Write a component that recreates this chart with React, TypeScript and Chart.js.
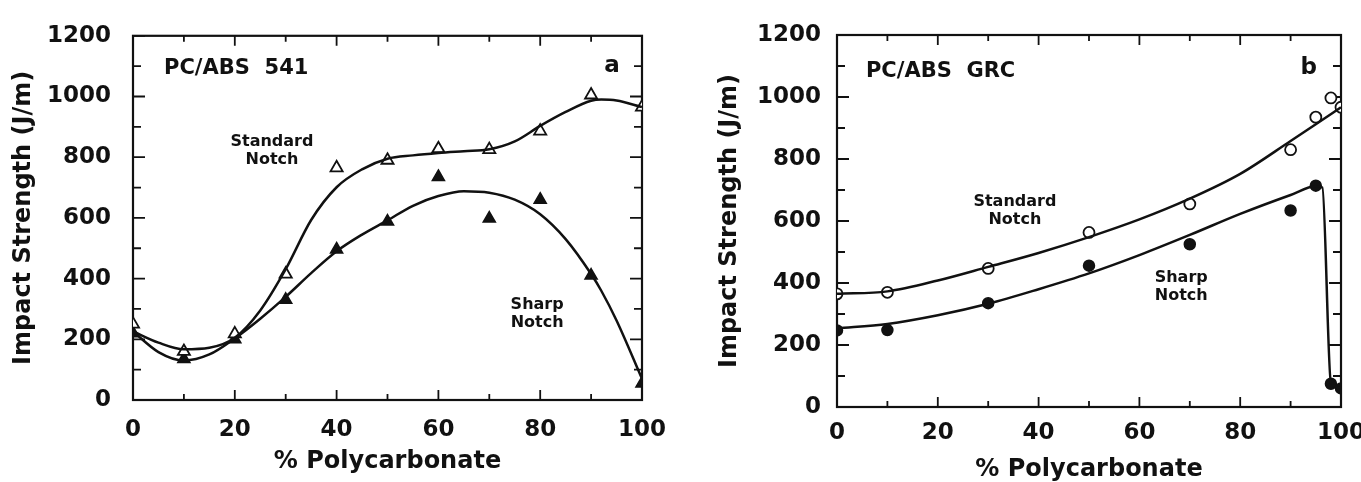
import React, { useEffect, useRef } from "react";
import { Chart, registerables } from "chart.js";
Chart.register(...registerables);

const FONT = "'DejaVu Sans', 'Liberation Sans', sans-serif";
const INK = "#111";

// ---------- Panel a : PC/ABS 541 ----------
const aPct = [0, 10, 20, 30, 40, 50, 60, 70, 80, 90, 100];
const aStandardNotch = [250, 160, 218, 415, 765, 790, 828, 825, 886, 1005, 965];
const aSharpNotch = [220, 135, 200, 330, 496, 588, 735, 598, 660, 410, 54];
const aFitPct = [0, 5, 10, 15, 20, 25, 30, 35, 40, 45, 50, 55, 60, 65, 70, 75, 80, 85, 90, 92, 95, 100];
const aStandardFit = [226, 189, 167, 172, 205, 295, 431, 593, 701, 760, 795, 806, 814, 820, 826, 852, 903, 949, 986, 990, 987, 965];
const aSharpFit = [226, 158, 130, 150, 203, 268, 340, 418, 490, 545, 592, 640, 672, 688, 683, 660, 612, 530, 415, 360, 262, 70];

// ---------- Panel b : PC/ABS GRC ----------
const bPct = [0, 10, 30, 50, 70, 90, 95, 98, 100];
const bStandardNotch = [365, 370, 447, 563, 655, 830, 935, 997, 967];
const bSharpNotch = [247, 248, 335, 456, 525, 634, 714, 75, 60];
const bStandardFitPct = [0, 10, 20, 30, 40, 50, 60, 70, 80, 90, 95, 100];
const bStandardFit = [365, 373, 408, 452, 497, 548, 605, 672, 752, 858, 912, 967];
const bSharpFitPct = [0, 10, 20, 30, 40, 50, 60, 70, 80, 90, 95, 96.3, 98, 100];
const bSharpFit = [254, 268, 296, 333, 380, 431, 490, 555, 623, 684, 712, 708, 78, 62];

// ---------- Axes ----------
const xLabelTicks = [0, 20, 40, 60, 80, 100];
const xMinorTicks = [10, 30, 50, 70, 90];
const yLabelTicks = [0, 200, 400, 600, 800, 1000, 1200];
const yMinorTicks = [100, 300, 500, 700, 900, 1100];
const xTitle = "% Polycarbonate";
const yTitle = "Impact Strength (J/m)";

const pts = (xs: number[], ys: number[]) => xs.map((x, i) => ({ x, y: ys[i] }));

const framePlugin = {
  id: "frameTicks",
  beforeDatasetsDraw(chart: any) {
    const { ctx, chartArea, scales } = chart;
    const { left, right, top, bottom } = chartArea;
    const x = scales.x, y = scales.y;
    ctx.save();
    ctx.strokeStyle = INK;
    ctx.lineWidth = 2.2;
    ctx.strokeRect(left, top, right - left, bottom - top);
    ctx.lineWidth = 1.8;
    ctx.beginPath();
    const yt = (v: number, len: number) => {
      const p = y.getPixelForValue(v);
      ctx.moveTo(left, p); ctx.lineTo(left + len, p);
      ctx.moveTo(right, p); ctx.lineTo(right - len, p);
    };
    const xt = (v: number, len: number) => {
      const p = x.getPixelForValue(v);
      ctx.moveTo(p, bottom); ctx.lineTo(p, bottom - len);
      ctx.moveTo(p, top); ctx.lineTo(p, top + len);
    };
    yLabelTicks.forEach((v) => yt(v, 12));
    yMinorTicks.forEach((v) => yt(v, 8));
    xLabelTicks.forEach((v) => xt(v, 10));
    xMinorTicks.forEach((v) => xt(v, 6));
    ctx.stroke();
    ctx.restore();
  },
};

type Note = { text: string; x: number; y: number; align: CanvasTextAlign; size: number };

const makeNotes = (items: Note[]) => ({
  id: "notes",
  afterDraw(chart: any) {
    const { ctx, scales } = chart;
    ctx.save();
    ctx.fillStyle = INK;
    ctx.textBaseline = "middle";
    for (const n of items) {
      ctx.font = `bold ${n.size}px ${FONT}`;
      ctx.textAlign = n.align;
      ctx.fillText(n.text, scales.x.getPixelForValue(n.x), scales.y.getPixelForValue(n.y));
    }
    ctx.restore();
  },
});

type PanelCfg = {
  width: number;
  plotLeft: number;
  plotRight: number;
  plotTop: number;
  plotBottom: number;
  yTickPad: number;
  xTickPad: number;
  yTitlePad: number;
  xTitlePad: number;
  marker: string;
  markerRadius: number;
  stdPts: { x: number; y: number }[];
  sharpPts: { x: number; y: number }[];
  stdFit: { x: number; y: number }[];
  sharpFit: { x: number; y: number }[];
  notes: Note[];
};

const H = 482;

function buildChart(canvas: HTMLCanvasElement, c: PanelCfg) {
  const tickFont = { family: FONT, size: 23, weight: "bold" as const };
  const titleFont = { family: FONT, size: 24, weight: "bold" as const, lineHeight: 1 };
  return new Chart(canvas, {
    type: "line",
    data: {
      datasets: [
        {
          data: c.stdFit,
          borderColor: INK,
          borderWidth: 2.5,
          pointRadius: 0,
          cubicInterpolationMode: "monotone",
          fill: false,
        },
        {
          data: c.sharpFit,
          borderColor: INK,
          borderWidth: 2.5,
          pointRadius: 0,
          cubicInterpolationMode: "monotone",
          fill: false,
        },
        {
          data: c.stdPts,
          showLine: false,
          pointStyle: c.marker as any,
          pointRadius: c.markerRadius,
          pointBackgroundColor: "#fff",
          pointBorderColor: INK,
          pointBorderWidth: 1.8,
        },
        {
          data: c.sharpPts,
          showLine: false,
          pointStyle: c.marker as any,
          pointRadius: c.markerRadius,
          pointBackgroundColor: INK,
          pointBorderColor: INK,
          pointBorderWidth: 1.5,
        },
      ],
    },
    options: {
      responsive: false,
      animation: false,
      events: [],
      layout: {
        padding: { left: 0, right: c.width - c.plotRight, top: c.plotTop, bottom: 0 },
      },
      plugins: { legend: { display: false }, tooltip: { enabled: false } },
      scales: {
        x: {
          type: "linear",
          min: 0,
          max: 100,
          afterBuildTicks: (s: any) => {
            s.ticks = xLabelTicks.map((v) => ({ value: v }));
          },
          grid: { display: false, drawTicks: false },
          border: { display: false },
          ticks: {
            padding: c.xTickPad,
            font: tickFont,
            color: INK,
            maxRotation: 0,
            autoSkip: false,
            callback: (v: any) => String(v),
          },
          title: {
            display: true,
            text: xTitle,
            font: titleFont,
            color: INK,
            padding: { top: 0, bottom: c.xTitlePad },
          },
          afterFit: (s: any) => {
            s.height = H - c.plotBottom;
            s.paddingLeft = 0;
            s.paddingRight = 0;
          },
        },
        y: {
          type: "linear",
          min: 0,
          max: 1200,
          afterBuildTicks: (s: any) => {
            s.ticks = yLabelTicks.map((v) => ({ value: v }));
          },
          grid: { display: false, drawTicks: false },
          border: { display: false },
          ticks: {
            padding: c.yTickPad,
            font: tickFont,
            color: INK,
            callback: (v: any) => String(v),
          },
          title: {
            display: true,
            text: yTitle,
            font: titleFont,
            color: INK,
            padding: { top: c.yTitlePad, bottom: 0 },
          },
          afterFit: (s: any) => {
            s.width = c.plotLeft;
          },
        },
      },
    },
    plugins: [framePlugin, makeNotes(c.notes)],
  });
}

function Panel({ cfg, left }: { cfg: PanelCfg; left: number }) {
  const ref = useRef<HTMLCanvasElement>(null);
  useEffect(() => {
    if (!ref.current) return;
    const ch = buildChart(ref.current, cfg);
    return () => ch.destroy();
  }, []);
  return (
    <canvas
      ref={ref}
      width={cfg.width}
      height={H}
      style={{ position: "absolute", left, top: 0, width: cfg.width, height: H, display: "block" }}
    />
  );
}

const panelA: PanelCfg = {
  width: 680,
  plotLeft: 133,
  plotRight: 642,
  plotTop: 29,
  plotBottom: 400,
  yTickPad: 22,
  xTickPad: 16,
  yTitlePad: 12,
  xTitlePad: 8,
  marker: "triangle",
  markerRadius: 7,
  stdPts: pts(aPct, aStandardNotch),
  sharpPts: pts(aPct, aSharpNotch),
  stdFit: pts(aFitPct, aStandardFit),
  sharpFit: pts(aFitPct, aSharpFit),
  notes: [
    { text: "PC/ABS  541", x: 6.1, y: 1093, align: "left", size: 21 },
    { text: "a", x: 94.1, y: 1100, align: "center", size: 23 },
    { text: "Standard", x: 27.3, y: 851, align: "center", size: 16 },
    { text: "Notch", x: 27.3, y: 792, align: "center", size: 16 },
    { text: "Sharp", x: 79.4, y: 314, align: "center", size: 16 },
    { text: "Notch", x: 79.4, y: 255, align: "center", size: 16 },
  ],
};

const panelB: PanelCfg = {
  width: 681,
  plotLeft: 157,
  plotRight: 661,
  plotTop: 35,
  plotBottom: 407,
  yTickPad: 16,
  xTickPad: 12,
  yTitlePad: 38,
  xTitlePad: 0,
  marker: "circle",
  markerRadius: 5.5,
  stdPts: pts(bPct, bStandardNotch),
  sharpPts: pts(bPct, bSharpNotch),
  stdFit: pts(bStandardFitPct, bStandardFit),
  sharpFit: pts(bSharpFitPct, bSharpFit),
  notes: [
    { text: "PC/ABS  GRC", x: 5.75, y: 1081, align: "left", size: 21 },
    { text: "b", x: 93.6, y: 1094, align: "center", size: 23 },
    { text: "Standard", x: 35.3, y: 661, align: "center", size: 16 },
    { text: "Notch", x: 35.3, y: 603, align: "center", size: 16 },
    { text: "Sharp", x: 68.3, y: 416, align: "center", size: 16 },
    { text: "Notch", x: 68.3, y: 358, align: "center", size: 16 },
  ],
};

export default function App() {
  return (
    <div
      style={{
        position: "absolute",
        left: 0,
        top: 0,
        width: 1361,
        height: H,
        overflow: "hidden",
        background: "#fff",
      }}
    >
      <Panel cfg={panelA} left={0} />
      <Panel cfg={panelB} left={680} />
    </div>
  );
}
